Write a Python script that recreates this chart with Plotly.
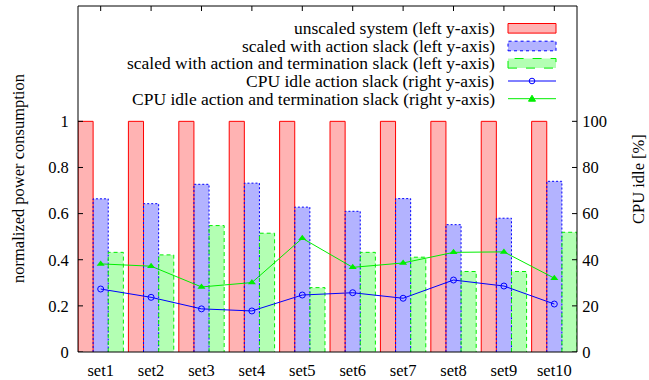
import numpy as np
import plotly.graph_objects as go

categories = ["set1", "set2", "set3", "set4", "set5", "set6", "set7", "set8", "set9", "set10"]
unscaled = [1, 1, 1, 1, 1, 1, 1, 1, 1, 1]
scaled_action = [0.664, 0.643, 0.727, 0.732, 0.628, 0.610, 0.665, 0.552, 0.580, 0.740]
scaled_action_term = [0.432, 0.421, 0.548, 0.515, 0.279, 0.432, 0.411, 0.349, 0.349, 0.519]
idle_action = [27.3, 23.7, 18.7, 17.8, 24.7, 25.7, 23.3, 31.2, 28.6, 20.8]
idle_action_term = [38.2, 37.2, 28.2, 30.1, 49.3, 36.7, 38.6, 43.2, 43.4, 32.0]
left_ticks = [0, 0.2, 0.4, 0.6, 0.8, 1]
left_ticktext = ["0", "0.2", "0.4", "0.6", "0.8", "1"]
right_ticks = [0, 20, 40, 60, 80, 100]

legend_labels = [
    "unscaled system (left y-axis)",
    "scaled with action slack (left y-axis)",
    "scaled with action and termination slack (left y-axis)",
    "CPU idle action slack (right y-axis)",
    "CPU idle action and termination slack (right y-axis)",
]

FONT = "Liberation Serif, Times New Roman, DejaVu Serif, serif"
FS_KEY = 17.5
FS_TICK = 16.5
RED, RED_FILL = "#ff0000", "#ffb3b3"
BLUE, BLUE_FILL = "#0000ff", "#b3b3ff"
GREEN, GREEN_FILL = "#00ee00", "#b3ffb3"
NB = "\u00a0"

x = np.arange(len(categories))
W = 0.3
offsets = [-0.45, -0.15, 0.15]

fig = go.Figure()


def outline(vals, off):
    xs, ys = [], []
    for i, v in enumerate(vals):
        xs += [i + off, i + off, i + off + W, i + off + W, None]
        ys += [0, v, v, 0, None]
    return xs, ys


series = [
    (unscaled, RED_FILL, RED, "solid"),
    (scaled_action, BLUE_FILL, BLUE, "2px,2px"),
    (scaled_action_term, GREEN_FILL, GREEN, "4px,3px"),
]
for (vals, fill, col, dash), off in zip(series, offsets):
    fig.add_trace(go.Bar(x=x, y=vals, width=W, offset=off, marker=dict(color=fill, line=dict(width=0)),
                         showlegend=False, hoverinfo="skip"))
for (vals, fill, col, dash), off in zip(series, offsets):
    xs, ys = outline(vals, off)
    fig.add_trace(go.Scatter(x=xs, y=ys, mode="lines", line=dict(color=col, width=1, dash=dash),
                             showlegend=False, hoverinfo="skip"))

fig.add_trace(go.Scatter(x=x, y=idle_action, yaxis="y2", mode="lines+markers",
                         line=dict(color=BLUE, width=1),
                         marker=dict(symbol="circle-open", size=6, color=BLUE, line=dict(width=1)),
                         showlegend=False))
fig.add_trace(go.Scatter(x=x, y=idle_action_term, yaxis="y2", mode="lines+markers",
                         line=dict(color=GREEN, width=1),
                         marker=dict(symbol="triangle-up", size=7, color=GREEN),
                         showlegend=False))

# Key drawn gnuplot-style (text right, sample on the right), positions in pixels -> paper
L, R, T, B = 78, 577, 6, 352
TL = 5  # tick length in px


def px(v):
    return (v - L) / (R - L)


def py(v):
    return (B - v) / (B - T)


rows = [28.3, 46, 63.3, 81, 98.7]
sx0, sx1 = 508, 556
sxm = (sx0 + sx1) / 2
for i, lab in enumerate(legend_labels):
    fig.add_annotation(x=px(497), y=py(rows[i]), xref="paper", yref="paper", text=lab, showarrow=False,
                       xanchor="right", yanchor="middle", font=dict(family=FONT, size=FS_KEY, color="black"))
for i, (fill, col, dash) in enumerate([(RED_FILL, RED, "solid"), (BLUE_FILL, BLUE, "dot"), (GREEN_FILL, GREEN, "dash")]):
    fig.add_shape(type="rect", xref="paper", yref="paper", x0=px(sx0), x1=px(sx1),
                  y0=py(rows[i] + 4.8), y1=py(rows[i] - 4.8),
                  fillcolor=fill, line=dict(color=col, width=1, dash=dash))
for i, col in [(3, BLUE), (4, GREEN)]:
    fig.add_shape(type="line", xref="paper", yref="paper", x0=px(sx0), x1=px(sx1),
                  y0=py(rows[i]), y1=py(rows[i]), line=dict(color=col, width=1))
fig.add_shape(type="circle", xref="paper", yref="paper", xsizemode="pixel", ysizemode="pixel",
              xanchor=px(sxm), yanchor=py(rows[3]), x0=-2.8, x1=2.8, y0=-2.8, y1=2.8,
              line=dict(color=BLUE, width=1), fillcolor="rgba(0,0,0,0)")
fig.add_shape(type="path", xref="paper", yref="paper", xsizemode="pixel", ysizemode="pixel",
              xanchor=px(sxm), yanchor=py(rows[4]), path="M-3.5,-2.5 L3.5,-2.5 L0,3.5 Z",
              line=dict(color=GREEN, width=1), fillcolor=GREEN)

# frame and inward ticks (gnuplot border)
fig.add_shape(type="rect", xref="paper", yref="paper", x0=0, x1=1, y0=0, y1=1,
              line=dict(color="black", width=1), fillcolor="rgba(0,0,0,0)")
for t in x:
    fig.add_shape(type="line", xref="x", yref="paper", x0=t, x1=t, y0=1, y1=1 - TL / (B - T),
                  line=dict(color="black", width=1))
for t in left_ticks:
    fig.add_shape(type="line", xref="paper", yref="y", x0=0, x1=TL / (R - L), y0=t, y1=t,
                  line=dict(color="black", width=1))
for t in right_ticks:
    fig.add_shape(type="line", xref="paper", yref="y2", x0=1, x1=1 - TL / (R - L), y0=t, y1=t,
                  line=dict(color="black", width=1))

# axis titles
fig.add_annotation(x=0, y=0.5, xref="paper", yref="paper", xshift=18 - L, xanchor="center", yanchor="middle",
                   text="normalized power consumption",
                   textangle=-90, showarrow=False, font=dict(family=FONT, size=FS_TICK, color="black"))
fig.add_annotation(x=1, y=0.5, xref="paper", yref="paper", xshift=638 - R, xanchor="center", yanchor="middle",
                   text="CPU idle [%]", textangle=-90,
                   showarrow=False, font=dict(family=FONT, size=FS_TICK, color="black"))

tickfont = dict(family=FONT, size=FS_TICK, color="black")
fig.update_layout(
    width=649, height=380,
    margin=dict(l=L, r=649 - R, t=T, b=380 - B, pad=0),
    plot_bgcolor="white", paper_bgcolor="white",
    barmode="overlay",
    showlegend=False,
    xaxis=dict(range=[-0.45, 9.45], tickvals=list(x), ticktext=categories, ticks="", showline=False,
               showgrid=False, zeroline=False, tickfont=tickfont, automargin=False, ticklabelstandoff=6),
    yaxis=dict(range=[0, 1.5], tickvals=left_ticks, ticktext=[t + NB * 2 for t in left_ticktext],
               ticks="", showline=False,
               showgrid=False, zeroline=False, tickfont=tickfont, automargin=False),
    yaxis2=dict(range=[0, 150], tickvals=right_ticks, ticktext=[NB + str(t) for t in right_ticks],
                overlaying="y", side="right", ticks="", showline=False,
                showgrid=False, zeroline=False, tickfont=tickfont, automargin=False),
)

fig.write_html("out.html", config={"displayModeBar": False}, post_script="document.body.style.margin='0';")
